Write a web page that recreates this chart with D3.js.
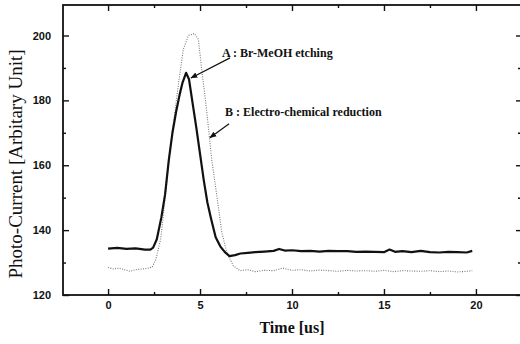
<!DOCTYPE html>
<html>
<head>
<meta charset="utf-8">
<script src="https://cdn.jsdelivr.net/npm/d3@7"></script>
<style>
  body { margin: 0; background: #fff; }
  svg { display: block; }
  .tick text { font-family: "Liberation Sans", Arial, sans-serif; font-weight: bold; font-size: 11px; fill: #111; }
</style>
</head>
<body>
<div id="chart"></div>
<script>
// curve A : Br-MeOH etching (solid)
const timeA = [0, 0.5, 1.0, 1.5, 2.0, 2.3, 2.45, 2.65, 2.9, 3.1, 3.3, 3.5, 3.7, 3.9, 4.05, 4.24, 4.4, 4.6, 4.8, 5.0, 5.2, 5.4, 5.6, 5.85, 6.1, 6.35, 6.6, 6.9, 7.2, 7.6, 8.0, 8.5, 9.0, 9.3, 9.6, 10, 10.5, 11, 11.5, 12, 12.5, 13, 13.5, 14, 14.5, 15, 15.3, 15.6, 16, 16.5, 17, 17.5, 18, 18.5, 19, 19.5, 19.8];
const currentA = [134.3, 134.5, 134.2, 134.4, 134.0, 134.0, 134.6, 137.2, 144, 151, 161.5, 170, 176.5, 182, 185.5, 188.5, 186.5, 179, 171.5, 163.5, 155.5, 148.5, 143.5, 137.8, 135, 133.2, 132, 132.3, 132.8, 133, 133.2, 133.4, 133.6, 134.2, 133.7, 133.8, 133.5, 133.6, 133.4, 133.6, 133.5, 133.5, 133.3, 133.4, 133.3, 133.2, 134, 133.3, 133.5, 133.2, 133.6, 133.2, 133.1, 133.3, 133.2, 133.1, 133.6];

// curve B : Electro-chemical reduction (dotted)
const timeB = [0, 0.3, 0.6, 0.9, 1.2, 1.5, 1.8, 2.1, 2.4, 2.6, 2.86, 3.0, 3.19, 3.37, 3.6, 3.85, 4.09, 4.37, 4.69, 4.91, 5.09, 5.27, 5.45, 5.63, 5.94, 6.18, 6.45, 6.81, 7.17, 7.6, 8.0, 8.5, 9.0, 9.5, 10, 10.5, 11, 11.5, 12, 12.5, 13, 13.5, 14, 14.5, 15, 15.5, 16, 16.5, 17, 17.5, 18, 18.5, 19, 19.5, 19.8];
const currentB = [128.5, 128.0, 128.3, 127.8, 127.3, 127.8, 128.0, 128.2, 128.6, 131, 137.2, 144.4, 154.7, 165, 175, 186, 195.7, 200, 200.6, 198.8, 189.5, 181.3, 172, 162, 149.5, 139.4, 133.2, 129, 127.5, 127.8, 127.2, 127.6, 127.5, 128.3, 127.6, 127.8, 127.4, 127.7, 127.5, 127.3, 127.6, 127.4, 127.5, 127.3, 127.6, 127.2, 127.5, 127.4, 127.3, 127.5, 127.2, 127.4, 127.1, 127.3, 127.5];

const xTicks = [0, 5, 10, 15, 20];
const xMinor = [2.5, 7.5, 12.5, 17.5];
const yTicks = [120, 140, 160, 180, 200];
const yMinor = [130, 150, 170, 190];

// annotations, in data units: label anchor, arrow tail, arrow tip
const labels = ['A : Br-MeOH etching', 'B : Electro-chemical reduction'];
const labelPos = [[6.2, 194.6], [6.36, 176.5]];
const arrowFrom = [[6.63, 193.1], [6.58, 172.8]];
const arrowTo = [[4.51, 186.9], [5.54, 168.5]];

const width = 520, height = 344;
// right frame edge sits just past the picture, as in the scan
const margin = {top: 5, right: -1, bottom: 49, left: 63};

const svg = d3.select('#chart')
  .append('svg')
    .attr('width', width)
    .attr('height', height);

const xScale = d3.scaleLinear()
  .domain([-2.45, 22.45])
  .range([margin.left, width - margin.right]);

const yScale = d3.scaleLinear()
  .domain([120, 209.4])
  .range([height - margin.bottom, margin.top]);

const x0 = margin.left, x1 = width - margin.right;
const y0 = height - margin.bottom, y1 = margin.top;

function styleAxis(g) {
  g.select('.domain').remove();
  g.selectAll('.tick line').attr('stroke', '#111').attr('stroke-width', 1.4);
}

// bottom axis with labels, ticks pointing in
svg.append('g')
  .attr('transform', `translate(0, ${y0})`)
  .call(d3.axisBottom(xScale).tickValues(xTicks).tickSize(-6).tickPadding(6).tickFormat(d3.format('d')))
  .call(styleAxis);
svg.append('g')
  .attr('transform', `translate(0, ${y0})`)
  .call(d3.axisBottom(xScale).tickValues(xMinor).tickSize(-3).tickFormat(''))
  .call(styleAxis);

// top axis, no labels
svg.append('g')
  .attr('transform', `translate(0, ${y1})`)
  .call(d3.axisTop(xScale).tickValues(xTicks).tickSize(-6).tickFormat(''))
  .call(styleAxis);
svg.append('g')
  .attr('transform', `translate(0, ${y1})`)
  .call(d3.axisTop(xScale).tickValues(xMinor).tickSize(-3).tickFormat(''))
  .call(styleAxis);

// left axis with labels
svg.append('g')
  .attr('transform', `translate(${x0}, 0)`)
  .call(d3.axisLeft(yScale).tickValues(yTicks).tickSize(-6).tickPadding(12).tickFormat(d3.format('d')))
  .call(styleAxis);
svg.append('g')
  .attr('transform', `translate(${x0}, 0)`)
  .call(d3.axisLeft(yScale).tickValues(yMinor).tickSize(-3).tickFormat(''))
  .call(styleAxis);

// right axis, no labels
svg.append('g')
  .attr('transform', `translate(${x1}, 0)`)
  .call(d3.axisRight(yScale).tickValues(yTicks).tickSize(-5).tickFormat(''))
  .call(styleAxis);
svg.append('g')
  .attr('transform', `translate(${x1}, 0)`)
  .call(d3.axisRight(yScale).tickValues(yMinor).tickSize(-3).tickFormat(''))
  .call(styleAxis);

// frame
svg.append('rect')
  .attr('x', x0).attr('y', y1)
  .attr('width', x1 - x0).attr('height', y0 - y1)
  .attr('fill', 'none')
  .attr('stroke', '#111')
  .attr('stroke-width', 1.8);

const line = d3.line()
  .x((d) => xScale(d[0]))
  .y((d) => yScale(d[1]));

svg.append('path')
  .datum(d3.zip(timeB, currentB))
  .attr('fill', 'none')
  .attr('stroke', '#777')
  .attr('stroke-width', 1.1)
  .attr('stroke-dasharray', '1,1.4')
  .attr('d', line);

svg.append('path')
  .datum(d3.zip(timeA, currentA))
  .attr('fill', 'none')
  .attr('stroke', '#111')
  .attr('stroke-width', 2.2)
  .attr('stroke-linejoin', 'round')
  .attr('d', line);

// annotations
svg.append('defs').append('marker')
    .attr('id', 'head')
    .attr('viewBox', '0 0 10 10')
    .attr('refX', 9).attr('refY', 5)
    .attr('markerWidth', 7).attr('markerHeight', 7)
    .attr('markerUnits', 'userSpaceOnUse')
    .attr('orient', 'auto')
  .append('path')
    .attr('d', 'M0,1 L10,5 L0,9 Z')
    .attr('fill', '#111');

labels.forEach((t, i) => {
  svg.append('line')
    .attr('x1', xScale(arrowFrom[i][0])).attr('y1', yScale(arrowFrom[i][1]))
    .attr('x2', xScale(arrowTo[i][0])).attr('y2', yScale(arrowTo[i][1]))
    .attr('stroke', '#111')
    .attr('stroke-width', 1.2)
    .attr('marker-end', 'url(#head)');

  svg.append('text')
    .attr('x', xScale(labelPos[i][0]))
    .attr('y', yScale(labelPos[i][1]))
    .attr('dy', '0.35em')
    .attr('font-family', '"Liberation Serif", "Times New Roman", serif')
    .attr('font-weight', 'bold')
    .attr('font-size', 12)
    .attr('fill', '#111')
    .text(t);
});

// axis titles
svg.append('text')
  .attr('x', (xScale(0) + xScale(20)) / 2)
  .attr('y', 327)
  .attr('dy', '0.35em')
  .attr('text-anchor', 'middle')
  .attr('font-family', '"Liberation Serif", "Times New Roman", serif')
  .attr('font-weight', 'bold')
  .attr('font-size', 16)
  .attr('fill', '#111')
  .text('Time [us]');

svg.append('text')
  .attr('transform', `translate(15, 164) rotate(-90)`)
  .attr('dy', '0.35em')
  .attr('text-anchor', 'middle')
  .attr('font-family', '"Liberation Serif", "Times New Roman", serif')
  .attr('font-size', 19)
  .attr('fill', '#111')
  .text('Photo-Current [Arbitary Unit]');
</script>
</body>
</html>
